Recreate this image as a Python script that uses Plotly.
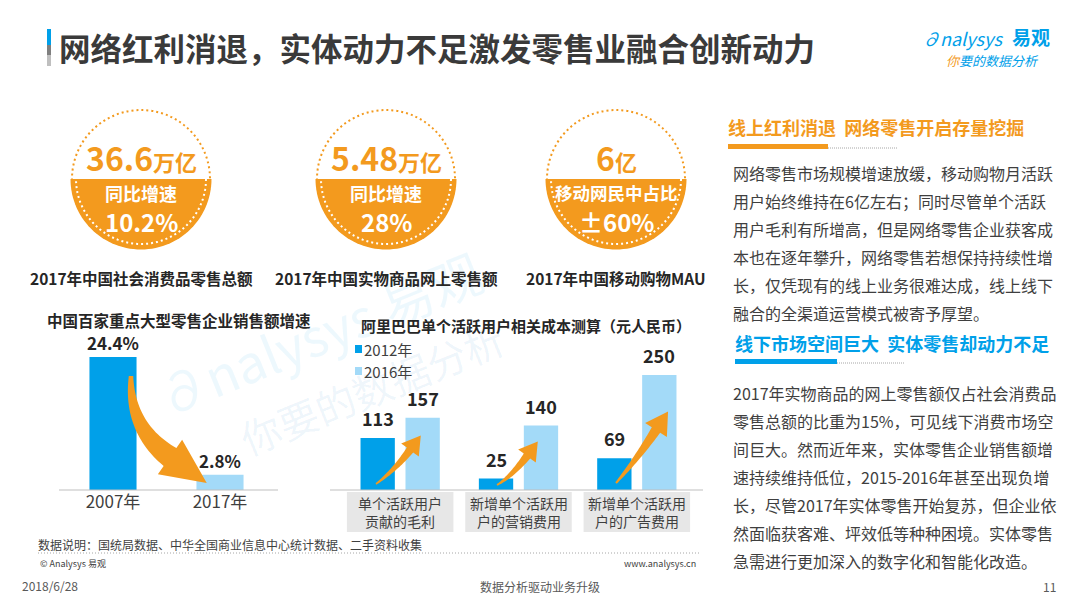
import math
import plotly.graph_objects as go

W, H = 1080, 608
FONT = "Noto Sans CJK SC, Noto Sans, sans-serif"
ORANGE = "#F39A1E"
BLUE = "#00A0E9"
LBLUE = "#A3DAF8"
DARK = "#3F3F3F"
GRAY = "#595959"

# ---------------- data ----------------
title = "网络红利消退，实体动力不足激发零售业融合创新动力"
kpi_values = ["36.6", "5.48", "6"]
kpi_units = ["万亿", "万亿", "亿"]
kpi_sub = ["同比增速", "同比增速", "移动网民中占比"]
kpi_rates = ["10.2%", "28%", "±60%"]
kpi_labels = ["2017年中国社会消费品零售总额", "2017年中国实物商品网上零售额", "2017年中国移动购物MAU"]

growth_title = "中国百家重点大型零售企业销售额增速"
growth_years = ["2007年", "2017年"]
growth_values = [24.4, 2.8]

cost_title = "阿里巴巴单个活跃用户相关成本测算（元人民币）"
cost_categories = ["单个活跃用户<br>贡献的毛利", "新增单个活跃用<br>户的营销费用", "新增单个活跃用<br>户的广告费用"]
cost_series = ["2012年", "2016年"]
cost_2012 = [113, 25, 69]
cost_2016 = [157, 140, 250]

head1 = "线上红利消退  网络零售开启存量挖掘"
para1 = [
    "网络零售市场规模增速放缓，移动购物月活跃",
    "用户始终维持在6亿左右；同时尽管单个活跃",
    "用户毛利有所增高，但是网络零售企业获客成",
    "本也在逐年攀升，网络零售若想保持持续性增",
    "长，仅凭现有的线上业务很难达成，线上线下",
    "融合的全渠道运营模式被寄予厚望。",
]
head2 = "线下市场空间巨大  实体零售却动力不足"
para2 = [
    "2017年实物商品的网上零售额仅占社会消费品",
    "零售总额的比重为15%，可见线下消费市场空",
    "间巨大。然而近年来，实体零售企业销售额增",
    "速持续维持低位，2015-2016年甚至出现负增",
    "长，尽管2017年实体零售开始复苏，但企业依",
    "然面临获客难、坪效低等种种困境。实体零售",
    "急需进行更加深入的数字化和智能化改造。",
]
source_note = "数据说明：国统局数据、中华全国商业信息中心统计数据、二手资料收集"
footer_date = "2018/6/28"
footer_mid = "数据分析驱动业务升级"
footer_page = "11"


def px(x):
    return x / W


def py(y):
    return 1 - y / H


shapes = []
ann = []


def text(x, y, s, size, color=DARK, bold=False, xanchor="left", **kw):
    if bold:
        s = "<b>" + s + "</b>"
    ann.append(dict(x=px(x), y=py(y), xref="paper", yref="paper", text=s, showarrow=False,
                    xanchor=xanchor, yanchor="middle",
                    font=dict(family=FONT, size=size, color=color), **kw))


def poly_path(pts):
    return "M " + " L ".join(f"{px(a):.5f},{py(b):.5f}" for a, b in pts) + " Z"


def swoosh(p0, p1, p2, head_len, w_body, w_head, n=30):
    left, right = [], []
    for i in range(n + 1):
        t = i / n
        x = (1 - t) ** 2 * p0[0] + 2 * (1 - t) * t * p1[0] + t * t * p2[0]
        y = (1 - t) ** 2 * p0[1] + 2 * (1 - t) * t * p1[1] + t * t * p2[1]
        dx = 2 * (1 - t) * (p1[0] - p0[0]) + 2 * t * (p2[0] - p1[0])
        dy = 2 * (1 - t) * (p1[1] - p0[1]) + 2 * t * (p2[1] - p1[1])
        L = math.hypot(dx, dy)
        nx, ny = -dy / L, dx / L
        w = w_body * (0.2 + 0.8 * t) / 2
        left.append((x + nx * w, y + ny * w))
        right.append((x - nx * w, y - ny * w))
    dx, dy = p2[0] - p1[0], p2[1] - p1[1]
    L = math.hypot(dx, dy)
    ux, uy = dx / L, dy / L
    nx, ny = -uy, ux
    tip = (p2[0] + ux * head_len, p2[1] + uy * head_len)
    hl = (p2[0] + nx * w_head / 2, p2[1] + ny * w_head / 2)
    hr = (p2[0] - nx * w_head / 2, p2[1] - ny * w_head / 2)
    pts = left + [hl, tip, hr] + right[::-1]
    shapes.append(dict(type="path", xref="paper", yref="paper", path=poly_path(pts),
                       fillcolor=ORANGE, line=dict(width=0), layer="above"))


# ---------------- title ----------------
shapes.append(dict(type="rect", xref="paper", yref="paper", x0=px(47), x1=px(51), y0=py(45), y1=py(29),
                   fillcolor=BLUE, line=dict(width=0)))
shapes.append(dict(type="rect", xref="paper", yref="paper", x0=px(47), x1=px(51), y0=py(55), y1=py(45),
                   fillcolor="#7F7F7F", line=dict(width=0)))
shapes.append(dict(type="rect", xref="paper", yref="paper", x0=px(47), x1=px(51), y0=py(66), y1=py(55),
                   fillcolor="#BFBFBF", line=dict(width=0)))
text(57, 47, title, 31.5, color="#3A3A3A", bold=True)

# logo
text(920, 38, "<i>∂nalysys</i>", 18, color=BLUE)
text(1010, 37, "易观", 19, color=BLUE, bold=True)
text(944, 60, "<i><span style='color:#F39A1E'>你</span>要的数据分析</i>", 13, color=BLUE)

# watermark
ann.append(dict(x=px(318), y=py(332), xref="paper", yref="paper", text="∂nalysys 易观", showarrow=False,
                xanchor="center", yanchor="middle", textangle=-22,
                font=dict(family=FONT, size=52, color="rgba(0,150,225,0.07)")))
ann.append(dict(x=px(372), y=py(388), xref="paper", yref="paper", text="你要的数据分析", showarrow=False,
                xanchor="center", yanchor="middle", textangle=-22,
                font=dict(family=FONT, size=40, color="rgba(0,120,200,0.07)")))

# ---------------- KPI circles ----------------
centers = [141, 386, 616]
cy, r = 179, 69
for i, cx in enumerate(centers):
    shapes.append(dict(type="circle", xref="paper", yref="paper", x0=px(cx - r), x1=px(cx + r),
                       y0=py(cy + r), y1=py(cy - r), line=dict(color=ORANGE, width=2, dash="2px,3px")))
    rr = r + 1.5
    pts = [(cx + rr * math.cos(math.pi * k / 60), cy + rr * math.sin(math.pi * k / 60)) for k in range(61)]
    shapes.append(dict(type="path", xref="paper", yref="paper", path=poly_path(pts),
                       fillcolor=ORANGE, line=dict(width=0)))
    ri = r - 4
    pts = [(cx + ri * math.cos(math.pi * k / 60), cy + ri * math.sin(math.pi * k / 60)) for k in range(61)]
    shapes.append(dict(type="path", xref="paper", yref="paper",
                       path="M " + " L ".join(f"{px(a):.5f},{py(b):.5f}" for a, b in pts),
                       line=dict(color="white", width=2, dash="2px,3px")))
    text(cx, 157, f"{kpi_values[i]}<span style='font-size:22px'>{kpi_units[i]}</span>", 32,
         color=ORANGE, bold=True, xanchor="center")
    text(cx, 193, kpi_sub[i], 18 if len(kpi_sub[i]) < 6 else 17.5, color="white", bold=True, xanchor="center")
    text(cx, 222, kpi_rates[i], 24, color="white", bold=True, xanchor="center")
    text(cx, 278, kpi_labels[i], 15.5, color="#262626", bold=True, xanchor="center")

# ---------------- chart titles / legend ----------------
text(179, 320, growth_title, 15.5, color="#262626", bold=True, xanchor="center")
text(526, 325, cost_title, 15, color="#262626", bold=True, xanchor="center")

legend_y = [349, 371]
for j, (name, col) in enumerate(zip(cost_series, [BLUE, LBLUE])):
    shapes.append(dict(type="rect", xref="paper", yref="paper", x0=px(355), x1=px(362),
                       y0=py(legend_y[j] + 4), y1=py(legend_y[j] - 4), fillcolor=col, line=dict(width=0)))
    text(362, legend_y[j], name, 15, color=DARK)

# baselines
shapes.append(dict(type="line", xref="paper", yref="paper", x0=px(59), x1=px(278), y0=py(490), y1=py(490),
                   line=dict(color="#BFBFBF", width=1)))
shapes.append(dict(type="line", xref="paper", yref="paper", x0=px(330), x1=px(703), y0=py(490), y1=py(490),
                   line=dict(color="#BFBFBF", width=1)))

# ---------------- bars ----------------
fig = go.Figure()
fig.add_trace(go.Bar(x=growth_years, y=growth_values, width=0.44, marker=dict(color=[BLUE, LBLUE], line=dict(width=0)),
                     xaxis="x", yaxis="y", showlegend=False, hoverinfo="x+y"))
fig.add_trace(go.Bar(x=cost_categories, y=cost_2012, width=0.29, offset=-0.335, name=cost_series[0],
                     marker=dict(color=BLUE, line=dict(width=0)), xaxis="x2", yaxis="y2", showlegend=False))
fig.add_trace(go.Bar(x=cost_categories, y=cost_2016, width=0.29, offset=0.045, name=cost_series[1],
                     marker=dict(color=LBLUE, line=dict(width=0)), xaxis="x2", yaxis="y2", showlegend=False))

for i, v in enumerate(growth_values):
    ann.append(dict(x=i, y=v, xref="x", yref="y", text=f"<b>{v}%</b>", showarrow=False, yanchor="bottom",
                    yshift=0, font=dict(family=FONT, size=17, color="#262626")))
for i, (a, b) in enumerate(zip(cost_2012, cost_2016)):
    for off, v in [(-0.19, a), (0.19, b)]:
        ann.append(dict(x=i + off, y=v, xref="x2", yref="y2", text=f"<b>{v}</b>", showarrow=False,
                        yanchor="bottom", yshift=5, font=dict(family=FONT, size=18, color="#262626")))
    shapes.append(dict(type="rect", xref="x2", yref="paper", x0=i - 0.45, x1=i + 0.45, y0=py(532), y1=py(492),
                       fillcolor="#E7E7E7", line=dict(width=0), layer="below"))
    ann.append(dict(x=i, y=py(512), xref="x2", yref="paper", text=cost_categories[i], showarrow=False,
                    yanchor="middle", font=dict(family=FONT, size=14, color=DARK)))

# arrows
swoosh((131, 376), (129, 428), (170, 457), 45, 22, 42)
swoosh((376, 484), (395, 470), (410, 450), 18, 8, 22)
swoosh((497, 485), (512, 476), (527, 456), 18, 8, 22)
swoosh((616, 483), (637, 459), (656, 430), 22, 10, 26)

# ---------------- right panel ----------------
text(726, 127, head1, 18, color=ORANGE, bold=True)
shapes.append(dict(type="rect", xref="paper", yref="paper", x0=px(728), x1=px(828), y0=py(149), y1=py(144),
                   fillcolor=ORANGE, line=dict(width=0)))
shapes.append(dict(type="line", xref="paper", yref="paper", x0=px(828), x1=px(898), y0=py(148), y1=py(148),
                   line=dict(color="#A6A6A6", width=1, dash="1px,1px")))
for k, line in enumerate(para1):
    text(731, 173 + 28 * k, line, 16, color=DARK)

text(733, 343, head2, 18, color=BLUE, bold=True)
shapes.append(dict(type="rect", xref="paper", yref="paper", x0=px(735), x1=px(837), y0=py(364), y1=py(359),
                   fillcolor=BLUE, line=dict(width=0)))
shapes.append(dict(type="line", xref="paper", yref="paper", x0=px(837), x1=px(905), y0=py(363), y1=py(363),
                   line=dict(color="#A6A6A6", width=1, dash="1px,1px")))
for k, line in enumerate(para2):
    text(731, 393 + 28 * k, line, 16, color=DARK)

# ---------------- footer ----------------
text(36, 544, source_note, 12, color=DARK)
shapes.append(dict(type="line", xref="paper", yref="paper", x0=px(38), x1=px(700), y0=py(553), y1=py(553),
                   line=dict(color="#A6A6A6", width=1, dash="1px,2px")))
text(38, 563, "© Analysys 易观", 9, color=DARK)
text(698, 563, "www.analysys.cn", 9, color=DARK, xanchor="right")
text(20, 585, footer_date, 12, color=GRAY)
text(540, 586, footer_mid, 12, color=GRAY, xanchor="center")
text(1058, 586, footer_page, 12, color=GRAY, xanchor="right")

k1 = 133 / 24.4
k2 = 115 / 250.0
fig.update_layout(
    width=W, height=H, margin=dict(l=0, r=0, t=0, b=0),
    paper_bgcolor="white", plot_bgcolor="rgba(0,0,0,0)",
    barmode="overlay", showlegend=False,
    font=dict(family=FONT, color=DARK),
    xaxis=dict(domain=[59.5 / W, 273.5 / W], type="category", range=[-0.5, 1.5], showgrid=False,
               zeroline=False, showline=False, ticks="", tickfont=dict(family=FONT, size=17, color=DARK),
               anchor="y", fixedrange=True),
    yaxis=dict(domain=[py(490), py(330)], range=[0, 160 / k1], visible=False, anchor="x", fixedrange=True),
    xaxis2=dict(domain=[341 / W, 696 / W], type="category", range=[-0.5, 2.5], visible=False,
                anchor="y2", fixedrange=True),
    yaxis2=dict(domain=[py(490), py(330)], range=[0, 160 / k2], visible=False, anchor="x2", fixedrange=True),
    shapes=shapes, annotations=ann,
)
fig.write_html("out.html", config={"displayModeBar": False},
               post_script="document.body.style.margin='0';document.body.style.overflow='hidden';")
